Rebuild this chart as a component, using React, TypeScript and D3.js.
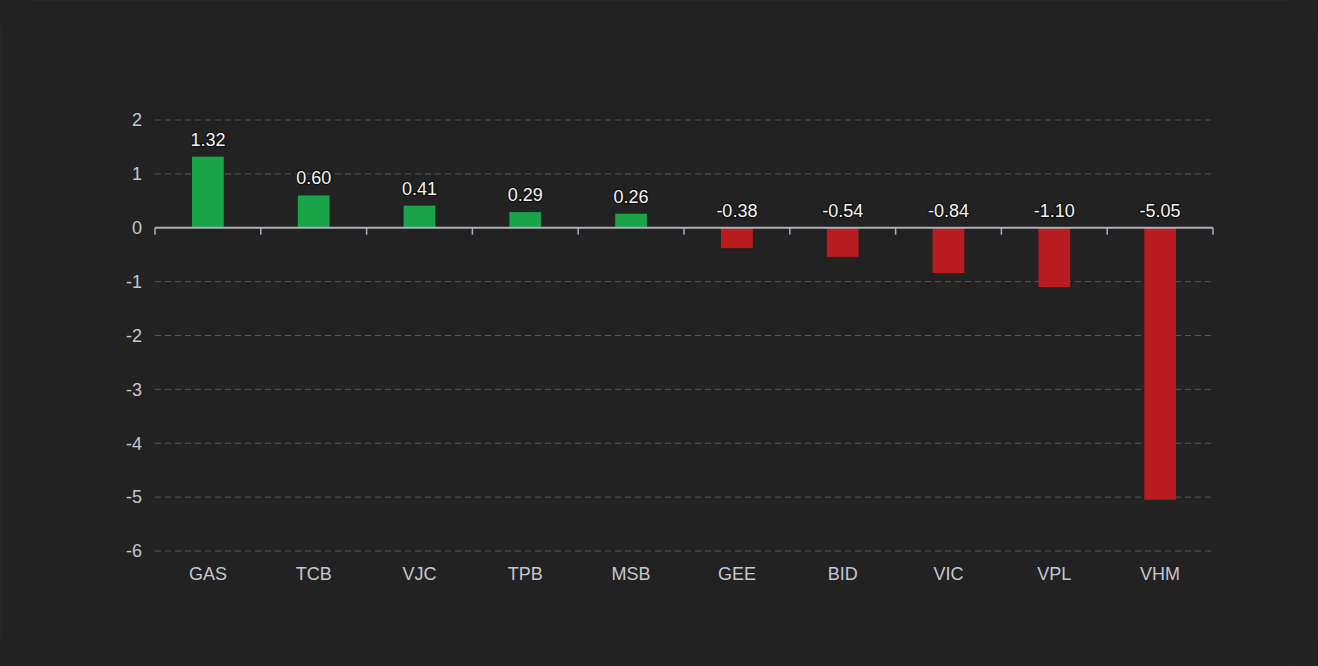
import React, { useEffect, useRef } from "react";
import * as d3 from "d3";

const tickers = ["GAS", "TCB", "VJC", "TPB", "MSB", "GEE", "BID", "VIC", "VPL", "VHM"];
const impacts = [1.32, 0.6, 0.41, 0.29, 0.26, -0.38, -0.54, -0.84, -1.1, -5.05];
const yTicks = [2, 1, 0, -1, -2, -3, -4, -5, -6];

const App: React.FC = () => {
  const svgRef = useRef<SVGSVGElement | null>(null);

  useEffect(() => {
    document.body.style.margin = "0";
    document.body.style.background = "#222222";

    const width = 1318;
    const height = 666;
    const margin = { top: 120, right: 105, bottom: 115, left: 155 };
    const font = "'Liberation Sans', Arial, sans-serif";

    const svg = d3.select(svgRef.current).attr("width", width).attr("height", height);
    svg.selectAll("*").remove();

    // nen
    svg
      .append("rect")
      .attr("x", 0.5)
      .attr("y", 0.5)
      .attr("width", width - 1)
      .attr("height", height - 1)
      .attr("rx", 28)
      .attr("fill", "#222222")
      .attr("stroke", "#272727");

    const x = d3
      .scaleBand()
      .domain(tickers)
      .range([margin.left, width - margin.right])
      .paddingInner(0.7)
      .paddingOuter(0.35);

    const xb = d3
      .scaleBand()
      .domain(tickers)
      .range([margin.left, width - margin.right]);

    const y = d3
      .scaleLinear()
      .domain([-6, 2])
      .range([height - margin.bottom, margin.top]);

    // grid
    svg
      .append("g")
      .selectAll("line")
      .data(yTicks.filter((t) => t !== 0))
      .join("line")
      .attr("x1", margin.left)
      .attr("x2", width - margin.right)
      .attr("y1", (d) => y(d))
      .attr("y2", (d) => y(d))
      .attr("stroke", "#555558")
      .attr("stroke-width", 1)
      .attr("stroke-dasharray", "6,4");

    // y labels
    svg
      .append("g")
      .selectAll("text")
      .data(yTicks)
      .join("text")
      .attr("x", margin.left - 13)
      .attr("y", (d) => y(d))
      .attr("dy", "0.35em")
      .attr("text-anchor", "end")
      .attr("fill", "#c6c6d2")
      .attr("font-family", font)
      .attr("font-size", 18)
      .text((d) => String(d));

    // bars
    svg
      .append("g")
      .selectAll("rect")
      .data(impacts)
      .join("rect")
      .attr("x", (_, i) => x(tickers[i])!)
      .attr("width", x.bandwidth())
      .attr("y", (d) => y(Math.max(0, d)))
      .attr("height", (d) => Math.abs(y(d) - y(0)))
      .attr("fill", (d) => (d >= 0 ? "#19a449" : "#b91c1f"));

    // zero axis + ticks
    const zero = svg.append("g");
    zero
      .append("line")
      .attr("x1", margin.left)
      .attr("x2", width - margin.right)
      .attr("y1", y(0))
      .attr("y2", y(0))
      .attr("stroke", "#aeaebc")
      .attr("stroke-width", 2);
    const bounds = tickers.map((t) => xb(t)!).concat([width - margin.right]);
    zero
      .selectAll("line.tick")
      .data(bounds)
      .join("line")
      .attr("class", "tick")
      .attr("x1", (d) => d)
      .attr("x2", (d) => d)
      .attr("y1", y(0))
      .attr("y2", y(0) + 7)
      .attr("stroke", "#aeaebc")
      .attr("stroke-width", 1.5);

    // value labels
    svg
      .append("g")
      .selectAll("text")
      .data(impacts)
      .join("text")
      .attr("x", (_, i) => x(tickers[i])! + x.bandwidth() / 2)
      .attr("y", (d) => y(Math.max(0, d)) - 11)
      .attr("text-anchor", "middle")
      .attr("fill", "#f2f2f2")
      .attr("stroke", "#111111")
      .attr("stroke-width", 2.5)
      .attr("paint-order", "stroke")
      .attr("font-family", font)
      .attr("font-size", 18)
      .text((d) => d.toFixed(2));

    // x labels
    svg
      .append("g")
      .selectAll("text")
      .data(tickers)
      .join("text")
      .attr("x", (d) => xb(d)! + xb.bandwidth() / 2)
      .attr("y", y(-6) + 29)
      .attr("text-anchor", "middle")
      .attr("fill", "#c6c6d2")
      .attr("font-family", font)
      .attr("font-size", 18)
      .text((d) => d);
  }, []);

  return <svg ref={svgRef} style={{ display: "block" }} />;
};

export default App;
